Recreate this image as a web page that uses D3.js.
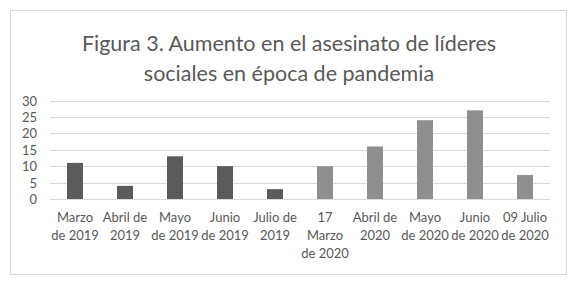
<!DOCTYPE html>
<html>
<head>
<meta charset="utf-8">
<script src="https://cdn.jsdelivr.net/npm/d3@7"></script>
<style>
  body { margin: 0; background: #fff; }
  text { font-family: Lato, "Open Sans", sans-serif; fill: #595959; }
</style>
</head>
<body>
<div id="chart"></div>
<script>
// categories (wrapped as in the original)
var labels = [
  ["Marzo", "de 2019"], ["Abril de", "2019"], ["Mayo", "de 2019"], ["Junio", "de 2019"], ["Julio de", "2019"],
  ["17", "Marzo", "de 2020"], ["Abril de", "2020"], ["Mayo", "de 2020"], ["Junio", "de 2020"], ["09 Julio", "de 2020"]
];
var values = [11, 4, 13, 10, 3, 10, 16, 24, 27, 7.3];
var years = [2019, 2019, 2019, 2019, 2019, 2020, 2020, 2020, 2020, 2020];
var yTicks = [0, 5, 10, 15, 20, 25, 30];
var titleLines = ["Figura 3. Aumento en el asesinato de líderes", "sociales en época de pandemia"];

var width = 584, height = 283;
var svg = d3.select("#chart").append("svg")
  .attr("width", width).attr("height", height);

svg.append("rect")
  .attr("x", 10.5).attr("y", 10.5).attr("width", 556).attr("height", 264)
  .attr("fill", "#fff").attr("stroke", "#d9d9d9");

svg.selectAll(".title").data(titleLines).enter().append("text")
  .attr("class", "title")
  .attr("x", 289).attr("y", function (d, i) { return 51 + i * 30; })
  .attr("text-anchor", "middle")
  .style("font-size", "21.5px")
  .text(function (d) { return d; });

var x = d3.scaleBand().domain(d3.range(values.length)).range([50, 550]).paddingInner(0.68).paddingOuter(0.34);
var y = d3.scaleLinear().domain([0, 30]).range([199, 100.5]);

// grid
svg.selectAll(".grid").data(yTicks).enter().append("line")
  .attr("x1", 50).attr("x2", 550)
  .attr("y1", function (d) { return Math.round(y(d)) + 0.5; })
  .attr("y2", function (d) { return Math.round(y(d)) + 0.5; })
  .attr("stroke", "#d9d9d9");

// y labels
svg.selectAll(".ylab").data(yTicks).enter().append("text")
  .attr("x", 37).attr("y", function (d) { return y(d) + 5; })
  .attr("text-anchor", "end")
  .style("font-size", "13px")
  .text(function (d) { return d; });

svg.selectAll(".bar").data(values).enter().append("rect")
  .attr("x", function (d, i) { return x(i); })
  .attr("width", x.bandwidth())
  .attr("y", function (d) { return y(d); })
  .attr("height", function (d) { return y(0) - y(d); })
  .attr("fill", function (d, i) { return years[i] == 2019 ? "#5b5b5b" : "#8f8f8f"; });

// x labels
var xl = svg.selectAll(".xlab").data(labels).enter().append("text")
  .attr("text-anchor", "middle")
  .style("font-size", "13px");
xl.selectAll("tspan").data(function (d, i) { return d.map(function (s) { return { s: s, i: i }; }); })
  .enter().append("tspan")
  .attr("x", function (d) { return x(d.i) + x.bandwidth() / 2; })
  .attr("y", function (d, j) { return 222 + j * 18; })
  .text(function (d) { return d.s; });
</script>
</body>
</html>
